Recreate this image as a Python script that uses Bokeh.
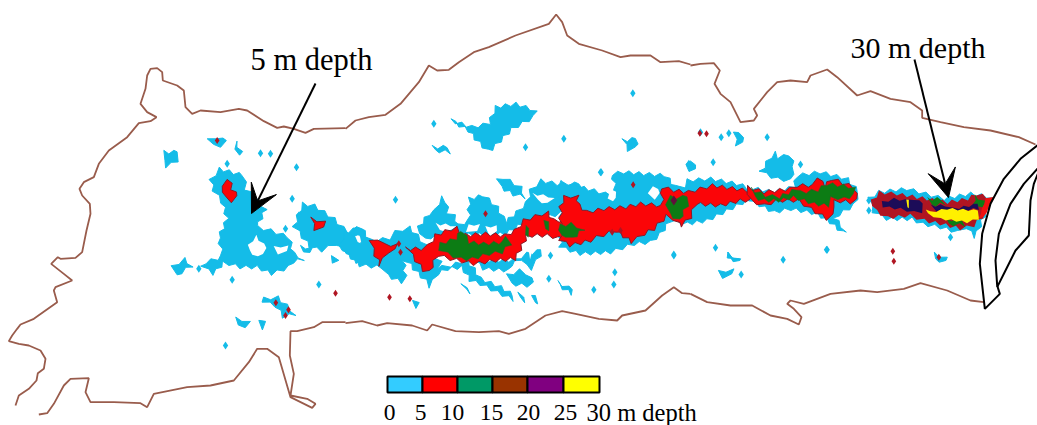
from bokeh.plotting import figure
from bokeh.embed import file_html
from bokeh.resources import INLINE
from bokeh.models import Range1d, Arrow, VeeHead, GlobalInlineStyleSheet
from bokeh.core.properties import value
import math

# Map coordinates, surveyed at 1/3 px on several sheets; each sheet has an origin
W, M, E = (0,0), (345,0), (690,0)
C1, C2, C3, Z = (340,170), (560,150), (150,130), (850,130)

coast_north_w = [(45,1215),(55,1185),(85,1165),(108,1140),(112,1118),(130,1105),(135,1075),(120,1050),(85,1035),(55,1030),(25,1022),(35,1005),(50,985),(60,972),(100,955),(135,930),(170,905),(160,870),(165,860),(215,840),(190,820),(152,790),(172,770),(180,775),(225,772),(245,755),(258,690),(270,640),(268,610),(245,585),(237,565),(250,545),(280,530),(295,490),(325,450),(380,410),(415,368),(450,362),(468,350),(440,335),(420,310),(435,265),(440,225),(450,205),(470,203),(485,215),(487,240),(530,255),(550,270),(555,320),(575,340),(600,330),(660,335),(715,325),(740,330),(790,362),(830,382),(850,378),(880,385),(915,397),(940,385),(1035,383)]
coast_north_m = [(0,385),(30,360),(70,350),(120,343),(165,310),(220,245),(250,195),(275,210),(310,208),(340,185),(385,155),(430,140),(510,105),(610,70),(632,42),(650,65),(665,105),(700,130),(770,150),(825,170),(855,165),(915,165),(945,185),(1000,182),(1035,192)]
coast_north_e = [(0,195),(30,190),(70,188),(88,210),(72,250),(90,280),(120,305),(150,365),(190,360),(200,345),(190,325),(230,275),(260,245),(300,240),(350,245),(360,225),(410,207),(440,230),(500,285),(540,272),(600,295),(660,305),(695,330),(695,352),(750,365),(820,380),(900,390),(985,410),(1035,432)]
coast_south_e = [(880,905),(840,900),(770,870),(690,848),(640,865),(560,875),(510,870),(420,880),(340,910),(300,900),(290,910),(310,925),(333,950),(325,972),(290,955),(240,945),(185,915),(120,915),(50,905),(0,880)]
coast_south_m = [(1035,880),(1010,878),(985,860),(950,885),(900,930),(830,945),(815,960),(760,955),(690,940),(650,932),(600,945),(540,985),(490,1000),(460,992),(400,995),(330,992),(260,972),(245,990),(200,975),(125,968),(95,975),(50,962),(0,968)]
coast_south_w = [(1035,965),(965,965),(940,980),(890,992),(870,992),(868,1065),(880,1120),(870,1185),(920,1195),(945,1210),(935,1222),(870,1190),(835,1070),(800,1045),(770,1045),(745,1085),(700,1140),(630,1155),(560,1160),(460,1180),(440,1220),(420,1208),(340,1205),(270,1205),(255,1175),(265,1133),(210,1135),(190,1155),(160,1210),(140,1238),(115,1242)]

cyan = [
 (C3,[(180,150),(205,115),(280,135),(285,175),(345,235),(320,290),(360,300),(415,320),(430,370),(460,385),(425,395),(415,410),(365,430),(320,410),(270,410),(220,395),(190,430),(155,410),(165,395),(200,385),(215,375),(205,320),(230,265),(215,215),(190,180)]),
 (C3,[(430,290),(455,220),(490,225),(550,265),(590,305),(630,290),(660,330),(660,390),(620,395),(590,365),(555,340),(515,360),(480,350),(445,305)]),
 (C3,[(450,350),(480,350),(475,370)]),
 (C3,[(540,380),(565,395),(550,395)]),
 (C3,[(65,410),(100,385),(125,405),(75,435)]),
 (C3,[(40,65),(85,65),(80,90),(50,110),(38,90)]),
 (C3,[(172,30),(200,20),(230,35),(210,45),(185,45)]),
 (C3,[(255,35),(272,60),(262,75)]),
 (W,[(790,895),(830,890),(885,940),(850,950),(825,915),(790,905)]),
 (W,[(705,955),(745,960),(730,985)]),
 (W,[(775,965),(800,965),(790,985)]),
 (C1,[(0,225),(10,185),(35,195),(52,165),(75,195),(90,210),(145,205),(165,185),(205,170),(230,195),(255,225),(260,240),(300,270),(290,290),(305,290),(330,285),(380,270),(400,295),(420,325),(480,350),(520,375),(520,388),(470,365),(420,340),(390,330),(365,290),(320,295),(290,310),(270,350),(255,330),(220,295),(200,270),(190,270),(195,330),(185,335),(140,315),(125,290),(60,285),(20,250)]),
 (C1,[(235,170),(265,130),(285,120),(300,80),(318,95),(320,125),(340,135),(355,165),(385,150),(385,85),(430,75),(470,110),(495,155),(530,125),(560,95),(570,60),(600,30),(650,40),(720,40),(720,85),(670,95),(660,130),(560,150),(495,190),(290,195),(250,205)]),
 (C1,[(400,270),(520,270),(560,250),(605,240),(590,270),(575,295),(555,285),(540,265),(510,285),(505,300),(430,295)]),
 (C1,[(470,30),(490,22),(540,50),(555,80),(520,72),(480,50)]),
 (C1,[(500,315),(535,300),(560,310),(580,340),(560,345),(510,340)]),
 (C1,[(360,345),(385,350),(390,365),(375,360)]),
 (C1,[(530,370),(555,380),(555,392),(535,382)]),
 (C1,[(575,380),(590,375),(590,395),(580,398)]),
 (C1,[(650,335),(700,360),(695,370),(655,345)]),
 (C1,[(215,395),(240,400),(230,410)]),
 (C2,[(0,95),(40,105),(100,120),(150,135),(165,115),(155,70),(190,65),(250,70),(315,75),(345,110),(370,110),(380,90),(450,85),(530,100),(560,110),(560,150),(440,210),(380,220),(330,210),(300,250),(270,275),(220,280),(150,305),(60,310),(0,290)]),
 (C2,[(560,110),(640,125),(700,110),(710,75),(780,65),(860,85),(895,125),(880,165),(820,200),(855,240),(845,245),(810,215),(770,190),(690,175),(640,185),(570,150)]),
 (C2,[(600,65),(640,5),(650,20),(690,15),(700,50),(690,90),(650,85)]),
 (C2,[(380,45),(395,30),(405,60),(390,60)]),
 (C2,[(500,310),(535,325),(530,330),(505,320)]),
 (M,[(315,360),(380,380),(430,370),(450,320),(510,310),(570,330),(565,350),(500,385),(440,445),(425,450),(390,415),(370,390)]),
 (M,[(260,440),(310,440),(315,455),(265,450)]),
 (M,[(830,420),(875,415),(870,445),(850,450)]),
 (Z,[(55,205),(85,185),(170,175),(225,190),(280,205),(360,190),(425,200),(395,270),(375,320),(345,290),(320,305),(270,290),(215,280),(185,265),(110,265),(70,245)]),
 (E,[(85,815),(125,805),(125,825),(100,830)]),
 (E,[(110,760),(145,775),(145,785),(115,772)]),
 (E,[(130,400),(150,395),(158,430),(140,435)]),
 (E,[(730,760),(765,770),(765,785),(730,775)]),
]
cyan_specks = [(C3,x,y) for x,y in [(330,68),(360,70),(438,110),(425,205),(230,100),(405,295),(245,448),(505,462),(445,255),(145,415)]] + \
 [(W,x,y) for x,y in [(675,1035)]] + \
 [(C1,x,y) for x,y in [(625,325),(630,255),(165,88)]] + \
 [(M,x,y) for x,y in [(765,515),(265,370),(540,440),(655,415),(862,278),(745,868),(808,815),(805,852),(985,765),(1030,490)]] + \
 [(C2,x,y) for x,y in [(458,35),(122,65),(720,42),(465,292),(340,312),(800,298),(925,150),(925,180)]] + \
 [(E,x,y) for x,y in [(30,395),(92,410),(115,398),(230,410),(278,778),(408,748),(152,822),(780,710)]]
holes = [
 (C3,[(295,345),(315,315),(350,355),(320,380),(295,360)]),
 (C3,[(370,350),(410,345),(410,365),(385,370)]),
 (C3,[(620,318),(632,318),(632,332),(620,332)]),
 (C1,[(285,160),(345,165),(335,180),(295,180)]),
 (C1,[(385,165),(415,160),(410,185),(380,185)]),
 (C1,[(435,170),(465,165),(470,185),(440,190)]),
 (C1,[(45,200),(60,195),(60,215),(48,215)]),
 (C1,[(565,245),(578,245),(572,265)]),
 (C1,[(575,70),(640,80),(620,100),(590,90)]),
 (C2,[(265,130),(280,105),(300,130),(285,145)]),
 (C2,[(150,120),(170,125),(155,155),(145,145)]),
]
red = [
 (C3,[(220,170),(235,145),(245,175),(262,200),(245,212),(222,200)]),
 (C3,[(480,265),(520,272),(520,295),(495,298)]),
 (C1,[(88,215),(115,205),(135,225),(165,220),(165,240),(140,245),(120,285),(105,255)]),
 (C1,[(195,235),(240,235),(265,225),(285,195),(345,170),(360,195),(435,190),(495,195),(525,180),(550,150),(620,125),(640,150),(720,150),(720,190),(690,210),(620,195),(560,195),(525,265),(465,270),(400,280),(330,265),(290,255),(265,305),(250,300),(215,255)]),
 (C2,[(0,170),(10,140),(50,135),(55,165),(80,185),(130,175),(195,170),(240,160),(305,165),(305,110),(340,120),(385,125),(455,105),(560,120),(570,150),(540,150),(480,165),(405,160),(390,200),(365,225),(355,220),(340,205),(320,195),(280,235),(250,250),(215,275),(165,240),(110,260),(90,270),(30,285),(0,270)]),
 (C2,[(560,110),(610,125),(690,115),(710,105),(760,105),(775,80),(790,110),(815,85),(880,110),(890,150),(870,155),(825,150),(815,170),(820,195),(800,205),(750,175),(715,150),(650,150),(610,165),(570,150)]),
]
red_specks = [(C3,x,y) for x,y in [(200,30)]] + \
 [(W,x,y) for x,y in [(826,907),(864,928),(855,945),(1005,878)]] + \
 [(C1,x,y) for x,y in [(147,380),(208,385),(435,130),(175,220),(180,245)]] + \
 [(C2,x,y) for x,y in [(218,103),(155,245),(180,240)]] + \
 [(E,x,y) for x,y in [(28,398),(48,400),(607,752),(610,782),(745,770)]]
green = [
 (C1,[(300,220),(345,205),(365,180),(385,215),(430,220),(490,215),(500,195),(510,220),(485,245),(445,250),(395,265),(360,265),(320,250),(300,240)]),
 (C1,[(555,170),(570,175),(565,195),(550,190)]),
 (C1,[(610,155),(630,155),(625,175),(610,175)]),
 (C2,[(0,225),(30,220),(70,235),(35,265),(15,255),(0,255)]),
 (C2,[(330,140),(385,140),(380,165),(355,210),(325,190),(320,165)]),
 (C2,[(570,115),(615,135),(655,140),(710,115),(720,125),(770,120),(800,100),(880,110),(880,135),(850,145),(815,140),(805,165),(760,160),(730,150),(700,140),(655,150),(610,150),(580,140)]),
]
darkred = [
 (Z,[(65,210),(85,185),(140,190),(170,195),(230,205),(290,215),(350,205),(380,190),(425,205),(395,260),(370,285),(330,295),(270,280),(220,270),(180,255),(110,262),(75,240)]),
]
green_east = [
 (Z,[(230,205),(275,205),(285,220),(240,225)]),
 (Z,[(370,195),(400,210),(395,235),(370,225)]),
 (Z,[(285,265),(340,270),(345,285),(290,280)]),
]
navy = [
 (Z,[(95,215),(130,205),(165,210),(190,205),(220,220),(215,245),(190,245),(150,235),(100,230)]),
 (Z,[(240,225),(285,225),(310,235),(385,220),(385,235),(320,240),(260,240)]),
]
yellow = [
 (Z,[(215,225),(240,245),(290,235),(385,240),(385,265),(350,275),(270,265),(230,250)]),
 (Z,[(168,210),(178,208),(175,230),(168,230)]),
]
red_wedge = [(Z,[(405,205),(430,200),(400,260),(385,265)])]
purple_spot = [(C2,340,150)]

jaw_outer = [(1050,430),(1040,435),(990,475),(940,535),(900,610),(875,700),(868,790),(883,925),(928,880),(920,855),(915,780),(925,700),(960,610),(1000,550),(1050,495)]
jaw_inner = [(1050,500),(1030,550),(1020,600),(1015,705),(975,750),(945,810),(920,860)]

legend_edges = [387,422,457,492,527,563,599]
legend_colors = ["#33CCFF","#FF0000","#009966","#993300","#800080","#FFFF00"]
legend_labels = ["0","5","10","15","20","25"]
legend_label_x = [389,420,452,491,528,565]


def pts(o, ps):
    return [x/3+o[0] for x,_ in ps], [y/3+o[1] for _,y in ps]

def jag(o, ps, step=5.0, amp=1.8):
    """Stair-stepped edge of the raster map cells."""
    xs, ys = pts(o, ps)
    ox, oy = [], []
    n = len(xs)
    k = 0
    for i in range(n):
        x0, y0, x1, y1 = xs[i], ys[i], xs[(i+1)%n], ys[(i+1)%n]
        L = math.hypot(x1-x0, y1-y0)
        m = max(1, int(L/step))
        for j in range(m):
            t = j/m
            nx, ny = -(y1-y0)/(L or 1), (x1-x0)/(L or 1)
            s = amp if k % 2 else -amp
            ox.append(x0+(x1-x0)*t+nx*s)
            oy.append(y0+(y1-y0)*t+ny*s)
            k += 1
    return ox, oy

p = figure(width=1037, height=425, x_range=Range1d(0,1037), y_range=Range1d(425,0),
           output_backend="svg", toolbar_location=None, min_border=0,
           background_fill_color="white", border_fill_color="white", outline_line_color=None)
p.axis.visible = False
p.grid.visible = False
p.stylesheets = [GlobalInlineStyleSheet(css="html,body{margin:0 !important;padding:0;}")]

def layer(shapes, fill, line=None, lw=0, **kw):
    X, Y = [], []
    for o, ps in shapes:
        a, b = jag(o, ps, **kw)
        X.append(a); Y.append(b)
    p.patches(X, Y, fill_color=fill, line_color=line, line_width=lw)

def specks(items, color, size):
    p.scatter([x/3+o[0] for o,x,y in items], [y/3+o[1] for o,x,y in items], marker="diamond", size=size,
              fill_color=color, line_color=None)

CO = "#995c4c"
for o, ps in [(W,coast_north_w),(M,coast_north_m),(E,coast_north_e),(E,coast_south_e),(M,coast_south_m),(W,coast_south_w)]:
    a, b = pts(o, ps)
    p.line(a, b, line_color=CO, line_width=1.8)

layer(cyan, "#14bce8", "#14bce8", 1)
specks(cyan_specks, "#14bce8", 8)
layer(holes, "white", amp=1.2)
layer(red, "#fb0508", "#8a1a28", 1)
specks(red_specks, "#b01522", 7)
layer(green, "#0c7c14", "#30602a", 0.6)
layer(darkred, "#b01522")
layer(green_east, "#0c7c14")
layer(navy, "#1c0c58", amp=1.2)
layer(yellow, "#fff000", amp=1.0)
layer(red_wedge, "#f01010", amp=0.5)
specks(purple_spot, "#60103c", 10)

a, b = pts(E, jaw_outer)
p.patch(a, b, fill_color="white", line_color="black", line_width=2)
a, b = pts(E, jaw_inner)
p.line(a, b, line_color="black", line_width=2)

for x0,y0,x1,y1 in [(315,83,251,213),(914,59,948,197)]:
    p.add_layout(Arrow(end=VeeHead(size=28, fill_color="black", line_color="black", line_width=1),
                       x_start=x0, y_start=y0, x_end=x1, y_end=y1, line_color="black", line_width=2))

F = value("Liberation Serif")
p.text([250],[59],text=["5 m depth"],text_font=F,text_font_size="30.5px",text_color="black",text_baseline="middle")
p.text([850],[47],text=["30 m depth"],text_font=F,text_font_size="30px",text_color="black",text_baseline="middle")

p.quad(left=legend_edges[:-1], right=legend_edges[1:], top=[376]*6, bottom=[392]*6,
       fill_color=legend_colors, line_color="black", line_width=2)
p.text(legend_label_x,[411.5]*6,text=legend_labels,text_font=F,text_font_size="23.5px",text_color="black",
       text_align="center",text_baseline="middle")
p.text([586],[411.5],text=["30 m depth"],text_font=F,text_font_size="24.5px",text_color="black",text_baseline="middle")

open("out.html","w").write(file_html(p, INLINE))
